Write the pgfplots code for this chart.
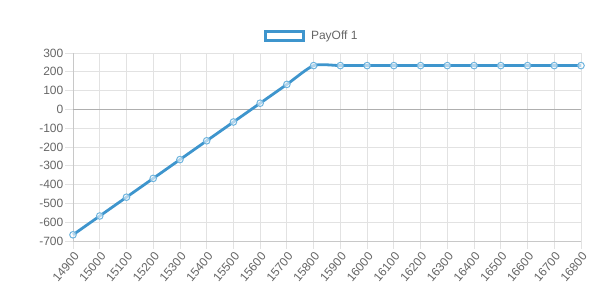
\documentclass[border=0pt]{standalone}
\usepackage{pgfplots}
\pgfplotsset{compat=1.18}
\usepackage{fontspec}
\setmainfont{Liberation Sans}
\definecolor{pay}{RGB}{62,149,205}
\definecolor{paymark}{RGB}{110,180,222}
\definecolor{gridc}{RGB}{226,226,226}
\definecolor{axc}{RGB}{200,200,200}
\definecolor{zeroc}{RGB}{175,175,175}
\definecolor{txt}{RGB}{102,102,102}
\begin{document}
\begin{tikzpicture}
\useasboundingbox (-73bp,-58bp) rectangle (538bp,241bp);
\begin{axis}[
  at={(0,0)}, anchor=south west,
  scale only axis, width=508bp, height=188bp,
  xmin=14900, xmax=16800, ymin=-700, ymax=300,
  xtick={14900,15000,...,16800},
  scaled x ticks=false,
  ytick={-700,-600,...,300},
  extra y ticks={0}, extra y tick labels={},
  extra y tick style={major grid style={zeroc, line width=0.9bp}, tick style={draw=none}},
  grid=major,
  major grid style={gridc, line width=0.8bp},
  axis x line*=bottom, axis y line*=left,
  axis line style={axc, line width=0.9bp, -},
  tick align=outside,
  major tick length=8bp,
  tick style={gridc, line width=0.8bp},
  /pgf/number format/assume math mode=true,
  /pgf/number format/set thousands separator={},
  tick label style={font=\fontsize{12bp}{14bp}\selectfont, text=txt},
  yticklabel style={inner sep=1.5bp},
  xticklabel style={rotate=50, anchor=north east, inner sep=1.5bp},
  clip=false,
  legend style={at={(0.47,1.09)}, anchor=center, draw=none, fill=none,
    font=\fontsize{12bp}{14bp}\selectfont, text=txt, inner sep=0pt,
    /tikz/every even column/.append style={column sep=0bp}},
  legend image code/.code={\draw[pay, line width=3bp, fill=white] (-2bp,-4.5bp) rectangle (36bp,4.5bp);},
]
\addplot[pay, line width=2.8bp, smooth, tension=0.4,
  mark=*, mark size=3.3bp,
  mark options={draw=paymark, fill=white, fill opacity=0.6, line width=1bp}]
  coordinates {
  (14900,-667) (15000,-567) (15100,-467) (15200,-367) (15300,-267)
  (15400,-167) (15500,-67) (15600,33) (15700,133) (15800,233)
  (15900,233) (16000,233) (16100,233) (16200,233) (16300,233)
  (16400,233) (16500,233) (16600,233) (16700,233) (16800,233)
  };
\addlegendentry{\hspace{4bp}PayOff 1}
\end{axis}
\end{tikzpicture}
\end{document}
